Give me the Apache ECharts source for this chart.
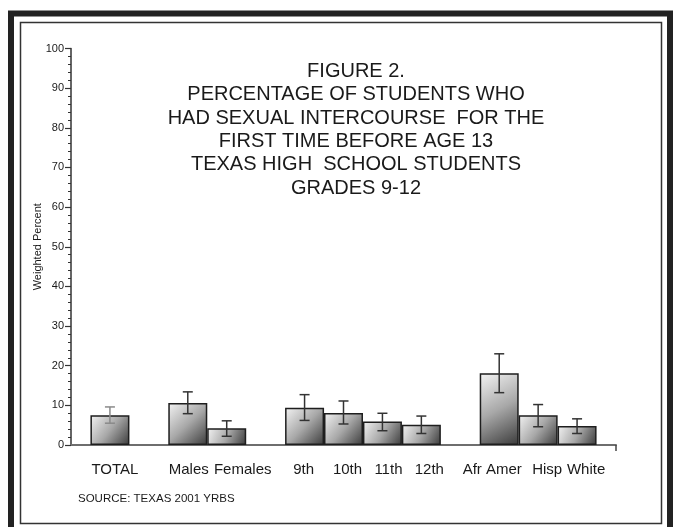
<!DOCTYPE html>
<html>
<head>
<meta charset="utf-8">
<script src="https://cdn.jsdelivr.net/npm/echarts@6/dist/echarts.min.js"></script>
<style>
html,body{margin:0;padding:0;background:#fff;}
#c{width:681px;height:527px;}
</style>
</head>
<body>
<div id="c"></div>
<script>
// Category slots (blank strings are spacer slots between groups)
var categories = ["", "TOTAL", "", "Males", "Females", "", "9th", "10th", "11th", "12th", "", "Afr Amer", "Hisp", "White", ""];
// Weighted percent per slot ('-' = no bar)
var values = ['-', 7.5, '-', 10.6, 4.2, '-', 9.4, 8.1, 5.9, 5.1, '-', 18.1, 7.5, 4.8, '-'];
// 95% confidence interval lower / upper bounds
var lowerCI = ['-', 5.5, '-', 7.9, 2.2, '-', 6.2, 5.3, 3.6, 2.9, '-', 13.2, 4.6, 2.9, '-'];
var upperCI = ['-', 9.6, '-', 13.4, 6.1, '-', 12.7, 11.1, 8.0, 7.3, '-', 23.0, 10.2, 6.6, '-'];
var yTicks = [0, 10, 20, 30, 40, 50, 60, 70, 80, 90, 100];
var titleLines = ["FIGURE 2.", "PERCENTAGE OF STUDENTS WHO", "HAD SEXUAL INTERCOURSE  FOR THE", "FIRST TIME BEFORE AGE 13", "TEXAS HIGH  SCHOOL STUDENTS", "GRADES 9-12"];
var sourceText = "SOURCE: TEXAS 2001 YRBS";
var yAxisName = "Weighted Percent";

var FONT = '"Liberation Sans", Arial, sans-serif';

// label horizontal nudges (px) relative to bar centre, as in the original typesetting
var labelNudge = [0, 5, 0, 1, 16, 0, -1, 4, 6, 8, 0, -7, 9, 9, 0];
var rich = {};
labelNudge.forEach(function (d, i) {
  rich['s' + i] = {
    fontSize: 15, color: '#1a1a1a', fontFamily: FONT,
    padding: d >= 0 ? [0, 0, 0, 2 * d] : [0, -2 * d, 0, 0]
  };
});

var errData = [];
for (var i = 0; i < categories.length; i++) {
  if (values[i] !== '-') errData.push([i, lowerCI[i], upperCI[i]]);
}

var chart = echarts.init(document.getElementById('c'), null, {renderer: 'canvas'});
var option = {
  backgroundColor: '#fff',
  animation: false,
  textStyle: {fontFamily: FONT},
  grid: {left: 71, right: 65, top: 48.5, bottom: 82, containLabel: false},
  xAxis: {
    type: 'category',
    data: categories,
    boundaryGap: false,
    axisLine: {lineStyle: {color: '#6e6e6e', width: 2}},
    axisTick: {show: true, length: 6, inside: false, lineStyle: {color: '#444', width: 1.5},
      interval: function (idx) { return idx === categories.length - 1; }},
    axisLabel: {
      interval: 0, fontSize: 15, color: '#1a1a1a', margin: 17, fontFamily: FONT,
      formatter: function (v, idx) { return v ? '{s' + idx + '|' + v + '}' : ''; },
      rich: rich
    },
    splitLine: {show: false}
  },
  yAxis: {
    type: 'value',
    min: yTicks[0],
    max: yTicks[yTicks.length - 1],
    interval: 10,
    name: yAxisName,
    nameLocation: 'middle',
    nameGap: 28,
    nameMoveOverlap: false,
    nameTextStyle: {fontSize: 11, color: '#1a1a1a', fontFamily: FONT},
    axisLine: {show: true, lineStyle: {color: '#333', width: 1.5}},
    axisTick: {show: true, length: 6, lineStyle: {color: '#333', width: 1.2}},
    minorTick: {show: true, splitNumber: 5, length: 3, lineStyle: {color: '#333', width: 1}},
    axisLabel: {fontSize: 11, color: '#1a1a1a', margin: 7, fontFamily: FONT},
    splitLine: {show: false}
  },
  series: [
    {
      type: 'bar',
      data: values,
      barWidth: 39,
      itemStyle: {
        color: new echarts.graphic.LinearGradient(0, 0, 1, 1, [
          {offset: 0, color: '#f4f4f4'},
          {offset: 0.5, color: '#a8a8a8'},
          {offset: 1, color: '#3a3a3a'}
        ]),
        borderColor: '#1e1e1e',
        borderWidth: 1.5
      }
    },
    {
      type: 'custom',
      data: errData,
      z: 10,
      renderItem: function (params, api) {
        var x = api.value(0);
        var lo = api.coord([x, api.value(1)]);
        var hi = api.coord([x, api.value(2)]);
        var half = 5;
        var col = x === 1 ? '#8a8a8a' : '#333';
        var st = {stroke: col, lineWidth: 1.5};
        return {
          type: 'group',
          children: [
            {type: 'line', shape: {x1: hi[0], y1: hi[1], x2: lo[0], y2: lo[1]}, style: st},
            {type: 'line', shape: {x1: hi[0] - half, y1: hi[1], x2: hi[0] + half, y2: hi[1]}, style: st},
            {type: 'line', shape: {x1: lo[0] - half, y1: lo[1], x2: lo[0] + half, y2: lo[1]}, style: st}
          ]
        };
      }
    }
  ],
  graphic: [
    {type: 'rect', shape: {x: 11, y: 13.5, width: 659, height: 540}, style: {fill: null, stroke: '#222', lineWidth: 6}, silent: true},
    {type: 'rect', shape: {x: 20.5, y: 22.5, width: 641, height: 501}, style: {fill: null, stroke: '#333', lineWidth: 1.5}, silent: true},
    {type: 'text', x: 356, y: 60, style: {text: titleLines.join('\n'), fontSize: 20, lineHeight: 23.3, fontFamily: FONT, fill: '#1a1a1a', align: 'center', verticalAlign: 'top'}},
    {type: 'text', x: 78, y: 493, style: {text: sourceText, fontSize: 11.5, fontFamily: FONT, fill: '#1a1a1a', align: 'left', verticalAlign: 'top'}}
  ]
};
chart.setOption(option);
</script>
</body>
</html>
